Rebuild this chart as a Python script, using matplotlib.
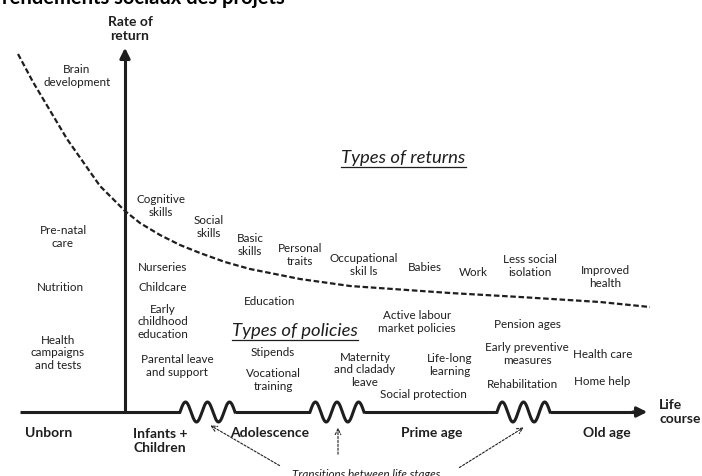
import matplotlib.pyplot as plt
import numpy as np

plt.rcParams["font.family"] = ["Lato", "DejaVu Sans"]

W, H = 702, 477
INK = "#1e1e1e"

# dashed "rate of return" curve (pixel coords)
curve_x = [18, 33, 67, 100, 125, 140, 160, 180, 200, 225, 250, 300, 350, 450, 520, 600, 650]
curve_y = [55, 83, 140, 187, 212, 224, 236, 246, 254, 263, 270, 280, 287, 294, 298, 303, 308]

# transition squiggles on the life-course axis (start, end)
waves = [(180, 235), (310, 364), (497, 550)]

returns_labels = [
    ("Brain\ndevelopment", 77, 76),
    ("Cognitive\nskills", 161, 206),
    ("Social\nskills", 209, 227),
    ("Basic\nskills", 250, 245),
    ("Personal\ntraits", 300, 255),
    ("Occupational\nskil ls", 364, 265),
    ("Babies", 425, 268),
    ("Work", 473, 273),
    ("Less social\nisolation", 530, 266),
    ("Improved\nhealth", 605, 277),
]

policy_labels = [
    ("Pre-natal\ncare", 63, 237),
    ("Nutrition", 60, 288),
    ("Health\ncampaigns\nand tests", 58, 353),
    ("Nurseries", 163, 268),
    ("Childcare", 163, 288),
    ("Early\nchildhood\neducation", 163, 322),
    ("Parental leave\nand support", 177, 366),
    ("Education", 270, 302),
    ("Stipends", 273, 353),
    ("Vocational\ntraining", 273, 380),
    ("Maternity\nand cladady\nleave", 365, 370),
    ("Social protection", 423, 395),
    ("Active labour\nmarket policies", 417, 322),
    ("Life-long\nlearning", 450, 365),
    ("Pension ages", 527, 325),
    ("Early preventive\nmeasures", 527, 354),
    ("Rehabilitation", 522, 385),
    ("Health care", 603, 355),
    ("Home help", 602, 382),
]

stage_labels = [
    ("Unborn", 49, 433),
    ("Infants +\nChildren", 160, 441),
    ("Adolescence", 270, 433),
    ("Prime age", 432, 433),
    ("Old age", 607, 433),
]

# dotted arrows from the "transitions" note to the squiggles (tail -> head)
transition_arrows = [((282, 468), (208, 425)), ((338, 458), (338, 426)), ((457, 470), (526, 427))]

fig = plt.figure(figsize=(W / 100, H / 100), dpi=100)
ax = fig.add_axes([0, 0, 1, 1])
ax.set_xlim(0, W)
ax.set_ylim(H, 0)
ax.axis("off")

axis_y = 413
# life-course axis with squiggles
segs = [20] + [v for w in waves for v in w] + [640]
for i in range(0, len(segs), 2):
    ax.plot([segs[i], segs[i + 1]], [axis_y, axis_y], color=INK, lw=2.2, solid_capstyle="butt")
for x0, x1 in waves:
    t = np.linspace(0, 1, 200)
    ax.plot(x0 + (x1 - x0) * t, axis_y - 10 * np.sin(2 * np.pi * 2.5 * t), color=INK, lw=2.2)
ax.annotate("", xy=(650, axis_y), xytext=(630, axis_y),
            arrowprops=dict(arrowstyle="-|>,head_length=0.6,head_width=0.3", color=INK, lw=2.2))

# rate-of-return axis
ax.plot([125, 125], [axis_y, 60], color=INK, lw=2.2)
ax.annotate("", xy=(125, 46), xytext=(125, 62),
            arrowprops=dict(arrowstyle="-|>,head_length=0.6,head_width=0.3", color=INK, lw=2.2))

ax.plot(curve_x, curve_y, color=INK, lw=1.6, ls=(0, (2.5, 1.2)))

for txt, x, y in returns_labels + policy_labels:
    ax.text(x, y, txt, ha="center", va="center", fontsize=8.4, color=INK, linespacing=1.15)

for txt, x, y in stage_labels:
    ax.text(x, y, txt, ha="center", va="center", fontsize=10, fontweight="bold", color=INK,
            linespacing=1.15)

ax.text(130, 29, "Rate of\nreturn", ha="center", va="center", fontsize=10, fontweight="bold",
        color=INK, linespacing=1.15)
ax.text(659, 412, "Life\ncourse", ha="left", va="center", fontsize=10, fontweight="bold",
        color=INK, linespacing=1.15)

ax.text(403, 158, "Types of returns", ha="center", va="center", fontsize=13.3,
        style="italic", color=INK)
ax.plot([341, 466], [168, 168], color=INK, lw=0.9)
ax.text(295, 331, "Types of policies", ha="center", va="center", fontsize=13.3,
        style="italic", color=INK)
ax.plot([232, 358], [341, 341], color=INK, lw=0.9)

ax.text(366, 475, "Transitions between life stages", ha="center", va="center", fontsize=8.4,
        style="italic", color=INK)
for (tx, ty), (hx, hy) in transition_arrows:
    ax.annotate("", xy=(hx, hy), xytext=(tx, ty),
                arrowprops=dict(arrowstyle="->", color=INK, lw=0.8, ls=(0, (2, 1.5))))

# cropped title at the very top
ax.text(2, -2, "rendements sociaux des projets", ha="left", va="center", fontsize=14.5,
        fontweight="bold", color="black")

fig.savefig("out.png", dpi=100)
